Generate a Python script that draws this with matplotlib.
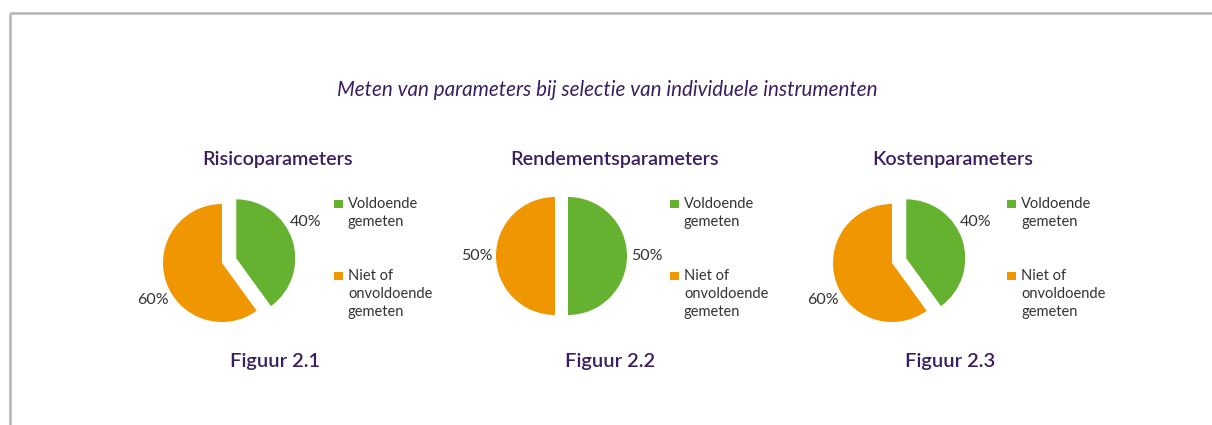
import matplotlib
matplotlib.use("Agg")
import matplotlib.pyplot as plt
from matplotlib.patches import Rectangle
import numpy as np

# ---- data ----
main_title = "Meten van parameters bij selectie van individuele instrumenten"
chart_titles = ["Risicoparameters", "Rendementsparameters", "Kostenparameters"]
figure_labels = ["Figuur 2.1", "Figuur 2.2", "Figuur 2.3"]
categories = ["Voldoende\ngemeten", "Niet of\nonvoldoende\ngemeten"]
voldoende = [40, 50, 40]
niet_voldoende = [60, 50, 60]

# ---- style ----
W, H = 1212, 425
GREEN = "#64b22f"
ORANGE = "#ef9600"
PURPLE = "#3a1f5f"
TEXT = "#333333"
FONT = "Lato"

fig = plt.figure(figsize=(W / 100, H / 100), dpi=100)
ax = fig.add_axes([0, 0, 1, 1])

def Y(px):
    return H - px

# frame lines (top and left)
ax.plot([10, W], [Y(13), Y(13)], color="#b4b4b4", lw=1.8, solid_capstyle="butt")
ax.plot([10, 10], [Y(13), 0], color="#b4b4b4", lw=1.8, solid_capstyle="butt")

ax.text(607, Y(96), main_title, ha="center", va="baseline", fontsize=14.9,
        style="italic", color=PURPLE, family=FONT)

# layout per pie: (center x px, center y px, explode px, title x, legend x, label rotation deg)
layout = [(222, 263, 15, 278, 334, 10), (555, 256, 13, 615, 670, 0), (892, 263, 15, 953, 1007, 10)]
radius = 59
label_dist = 1.33

for i in range(3):
    cx, cy, ex, tx, lx, rot = layout[i]
    vals = [voldoende[i], niet_voldoende[i]]
    wedges, texts, autotexts = ax.pie(
        vals, colors=[GREEN, ORANGE], startangle=90, counterclock=False,
        explode=[ex, 0], center=(cx, Y(cy)), radius=radius,
        autopct="%.0f%%", pctdistance=label_dist, frame=True,
        wedgeprops=dict(linewidth=0),
        textprops=dict(fontsize=11.5, color=TEXT, family=FONT))
    for w, t in zip(wedges, autotexts):
        th = np.deg2rad((w.theta1 + w.theta2) / 2 + rot)
        wx, wy = w.center
        t.set_position((wx + label_dist * radius * np.cos(th),
                        wy + label_dist * radius * np.sin(th)))
    ax.text(tx, Y(165), chart_titles[i], ha="center", va="baseline",
            fontsize=14.2, fontweight="semibold", color=PURPLE, family=FONT)
    ax.text(tx - 3 if i != 1 else tx - 5, Y(367), figure_labels[i], ha="center",
            va="baseline", fontsize=14.5, fontweight="semibold", color=PURPLE, family=FONT)
    # legend
    base_ys = [208, 280]
    for j, (lab, col) in enumerate(zip(categories, [GREEN, ORANGE])):
        b = base_ys[j]
        ax.add_patch(Rectangle((lx, Y(b)), 9, 8.5, facecolor=col, edgecolor="none"))
        for k, line in enumerate(lab.split("\n")):
            ax.text(lx + 14, Y(b + 18 * k), line, ha="left", va="baseline",
                    fontsize=10.5, color=TEXT, family=FONT)

ax.set_xlim(0, W)
ax.set_ylim(0, H)
ax.set_aspect("auto")
ax.axis("off")
fig.savefig("out.png", dpi=100)
